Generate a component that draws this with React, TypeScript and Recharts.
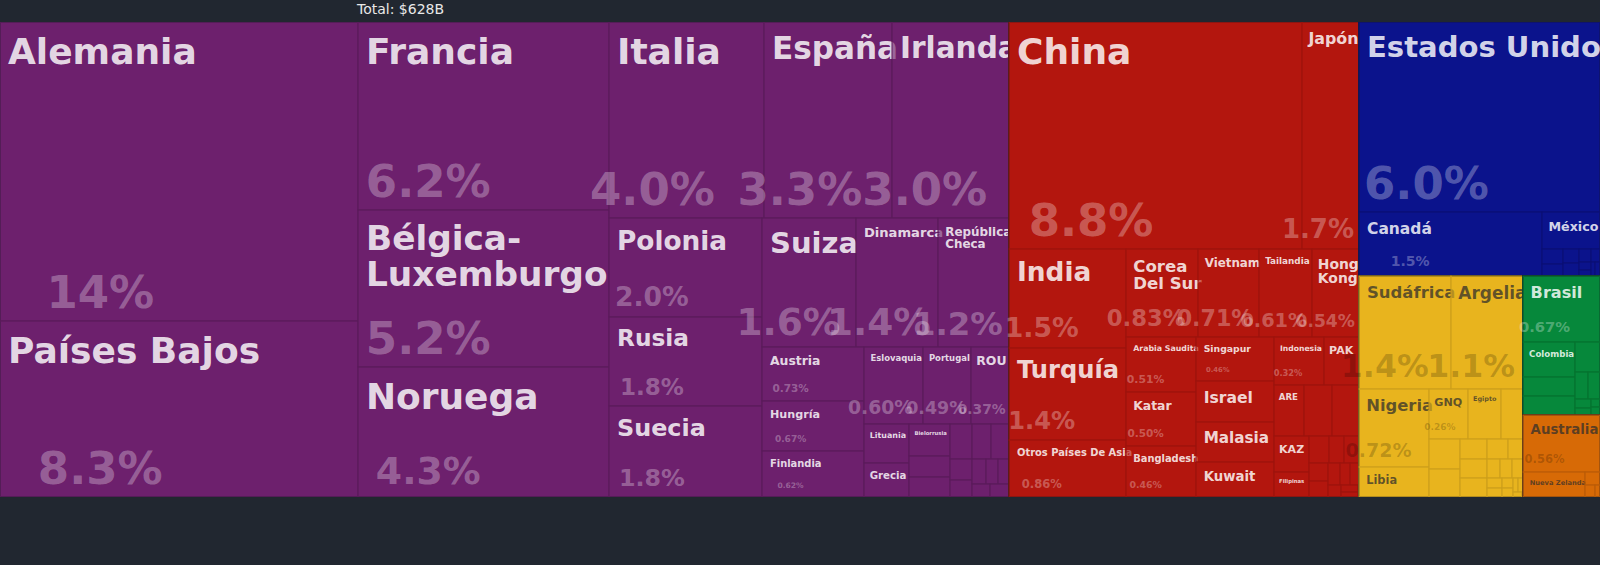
import { Treemap } from 'recharts'

const totalLabel = 'Total: $628B'

const regionNames = ['Europa', 'Asia', 'Norteamérica', 'África', 'Sudamérica', 'Oceanía']
const regionFills = ['#6d216d', '#b3160f', '#0c138c', '#e8b41f', '#06883b', '#d76b07']
const regionBorders = ['#5a1a5a', '#9c130d', '#0a0f74', '#cc9e1a', '#05732f', '#b95b06']
const regionDarkText = [false, false, false, true, false, true]

// shares of total imports, in %
const europeNames = [
  'Alemania', 'Países Bajos', 'Francia', 'Bélgica-Luxemburgo', 'Noruega', 'Italia', 'España', 'Irlanda',
  'Polonia', 'Rusia', 'Suecia', 'Suiza', 'Dinamarca', 'República Checa', 'Austria', 'Hungría', 'Finlandia',
  'Eslovaquia', 'Portugal', 'ROU', 'Lituania', 'Grecia', 'Bielorrusia', 'Eslovenia', 'Bulgaria', 'Estonia',
  'Letonia', 'Croacia', 'Islandia', 'Ucrania', 'Serbia', 'Malta', 'Chipre', 'Bosnia', 'Macedonia',
]
const europeValues = [
  14.1, 8.3, 6.2, 5.2, 4.3, 4.0, 3.3, 3.0, 2.0, 1.8, 1.8, 1.6, 1.4, 1.2, 0.73, 0.67, 0.62, 0.6, 0.49, 0.37,
  0.23, 0.2, 0.17, 0.115, 0.11, 0.1, 0.088, 0.085, 0.06, 0.05, 0.045, 0.04, 0.035, 0.03, 0.02,
]

const asiaNames = [
  'China', 'Japón', 'India', 'Turquía', 'Otros Países De Asia', 'Corea Del Sur', 'Vietnam', 'Tailandia',
  'Hong Kong', 'Arabia Saudita', 'Katar', 'Bangladesh', 'Singapur', 'Israel', 'Malasia', 'Kuwait', 'Indonesia',
  'PAK', 'ARE', 'Omán', 'Sri Lanka', 'KAZ', 'Filipinas', 'Camboya', 'Bahréin', 'Jordania', 'Myanmar', 'Irak',
  'Azerbaiyán', 'Uzbekistán', 'Nepal', 'Líbano', 'Mongolia', 'Georgia', 'Armenia',
]
const asiaValues = [
  8.76, 1.7, 1.53, 1.42, 0.86, 0.83, 0.712, 0.61, 0.544, 0.51, 0.5, 0.463, 0.457, 0.42, 0.41, 0.365, 0.318,
  0.222, 0.2, 0.188, 0.182, 0.164, 0.118, 0.07, 0.055, 0.053, 0.045, 0.04, 0.035, 0.03, 0.025, 0.02, 0.015,
  0.012, 0.01,
]

const northAmericaNames = [
  'Estados Unidos', 'Canadá', 'México', 'Panamá', 'Costa Rica', 'Guatemala', 'Honduras', 'Rep. Dominicana',
  'Bahamas', 'El Salvador', 'Jamaica', 'Nicaragua', 'Trinidad y Tobago',
]
const northAmericaValues = [6.02, 1.54, 0.28, 0.04, 0.035, 0.03, 0.025, 0.02, 0.015, 0.012, 0.01, 0.008, 0.006]

const africaNames = [
  'Sudáfrica', 'Argelia', 'Nigeria', 'Libia', 'GNQ', 'Egipto', 'Marruecos', 'Kenia', 'Ghana', 'Mauricio',
  'Túnez', 'Angola', 'Costa de Marfil', 'Etiopía', 'Uganda', 'Tanzania', 'Camerún', 'Senegal', 'Zambia',
  'Namibia', 'Botsuana', 'Mozambique', 'Madagascar', 'Gabón', 'Sudán',
]
const africaValues = [
  1.36, 1.07, 0.72, 0.28, 0.258, 0.215, 0.145, 0.121, 0.113, 0.07, 0.066, 0.066, 0.054, 0.042, 0.033, 0.03,
  0.025, 0.02, 0.018, 0.015, 0.012, 0.01, 0.008, 0.006, 0.005,
]

const southAmericaNames = [
  'Brasil', 'Colombia', 'Chile', 'Perú', 'Argentina', 'Ecuador', 'Uruguay', 'Venezuela', 'Guyana', 'Paraguay', 'Bolivia',
]
const southAmericaValues = [0.672, 0.24, 0.128, 0.126, 0.1, 0.047, 0.04, 0.019, 0.015, 0.01, 0.008]

const oceaniaNames = ['Australia', 'Nueva Zelanda', 'Fiyi', 'Papúa Nueva Guinea', 'Nueva Caledonia']
const oceaniaValues = [0.562, 0.198, 0.025, 0.015, 0.01]

const groups: [string[], number[]][] = [
  [europeNames, europeValues],
  [asiaNames, asiaValues],
  [northAmericaNames, northAmericaValues],
  [africaNames, africaValues],
  [southAmericaNames, southAmericaValues],
  [oceaniaNames, oceaniaValues],
]

const treeData = regionNames.map((region, i) => ({
  name: region,
  children: groups[i][0].map((n, j) => ({ name: n, size: groups[i][1][j] })),
}))

const grandTotal = groups.reduce((s, g) => s + g[1].reduce((a, b) => a + b, 0), 0)

const FONT = '"DejaVu Sans", Verdana, sans-serif'

// rough glyph widths for DejaVu Sans Bold, in em
function emWidth(s: string) {
  let t = 0
  for (const c of s) {
    if (" il.,:;|'í".includes(c)) t += 0.34
    else if ('ftrjIJ-'.includes(c)) t += 0.46
    else if ('mwMW%'.includes(c)) t += 1.0
    else if (c >= '0' && c <= '9') t += 0.7
    else if (c !== c.toLowerCase()) t += 0.78
    else t += 0.68
  }
  return t
}

function splitName(name: string): string[] | null {
  const dash = name.indexOf('-')
  if (dash > 0) return [name.slice(0, dash + 1), name.slice(dash + 1)]
  const words = name.split(' ')
  if (words.length < 2) return null
  let best: string[] | null = null
  let bestW = Infinity
  for (let k = 1; k < words.length; k++) {
    const a = words.slice(0, k).join(' ')
    const b = words.slice(k).join(' ')
    const m = Math.max(emWidth(a), emWidth(b))
    if (m < bestW) {
      bestW = m
      best = [a, b]
    }
  }
  return best
}

function TreeCell(props: any) {
  const { depth, x, y, width: w, height: h, name, root, value } = props
  if (depth === 0 || w <= 0 || h <= 0) return null
  if (depth === 1) {
    const ci = regionNames.indexOf(name)
    return <rect x={x} y={y} width={w} height={h} fill={regionFills[ci]} stroke="#1d222b" strokeWidth={2} />
  }
  const ci = regionNames.indexOf(root?.name)
  const dark = regionDarkText[ci]
  const nameColor = dark ? 'rgba(45,45,45,0.72)' : 'rgba(255,255,255,0.84)'
  const pctColor = dark ? 'rgba(0,0,0,0.2)' : 'rgba(255,255,255,0.3)'

  const pctVal = (value / grandTotal) * 100
  const pctText = `${pctVal.toPrecision(2)}%`
  const hasPct = w >= 38 && h >= 44
  const pctFont = hasPct ? Math.min(45, (h - 25) * 0.36, (w * 1.25) / emWidth(pctText)) : 0
  const showPct = hasPct && pctFont >= 6.5

  const avail = (w - 12) * 1.12
  const hCap = showPct ? (h - 14) * 0.31 : h * 0.38
  let lines = [name as string]
  let size = Math.min(36, hCap, avail / emWidth(name))
  const parts = splitName(name)
  if (parts) {
    const two = Math.min(36, showPct ? (h - 14) * 0.24 : h * 0.2, avail / Math.max(emWidth(parts[0]), emWidth(parts[1])))
    if (two > size * 1.45) {
      lines = parts
      size = two
    }
  }
  const showName = ((w >= 32 && h >= 24) || (w >= 29.5 && h >= 45)) && size >= 5
  const tx = x + Math.min(8, 3 + w * 0.06)

  return (
    <g>
      <rect x={x} y={y} width={w} height={h} fill={regionFills[ci]} fillOpacity={0.62} stroke={regionBorders[ci]} strokeWidth={1} />
      {showName && (
        <text x={tx} y={y + 6 + size} fill={nameColor} fontFamily={FONT} fontWeight="bold" fontSize={size}>
          {lines.map((l, i) => (
            <tspan key={i} x={tx} dy={i === 0 ? 0 : size * 1.05}>
              {l}
            </tspan>
          ))}
        </text>
      )}
      {showPct && (
        <text
          x={x + w * 0.28}
          y={y + h - 8 - pctFont * 0.12}
          textAnchor="middle"
          fill={pctColor}
          fontFamily={FONT}
          fontWeight="bold"
          fontSize={pctFont}
        >
          {pctText}
        </text>
      )}
    </g>
  )
}

export default function App() {
  return (
    <div style={{ position: 'fixed', left: 0, top: 0, width: 1600, height: 565, background: '#212730', overflow: 'hidden' }}>
      <div
        style={{
          position: 'absolute',
          left: 357,
          top: 0,
          fontFamily: FONT,
          fontSize: 14,
          lineHeight: '18px',
          color: '#e8e8e8',
        }}
      >
        {totalLabel}
      </div>
      <div style={{ position: 'absolute', left: 0, top: 22 }}>
        <Treemap
          width={1600}
          height={475}
          data={treeData}
          dataKey="size"
          nameKey="name"
          isAnimationActive={false}
          content={<TreeCell />}
        />
      </div>
    </div>
  )
}
